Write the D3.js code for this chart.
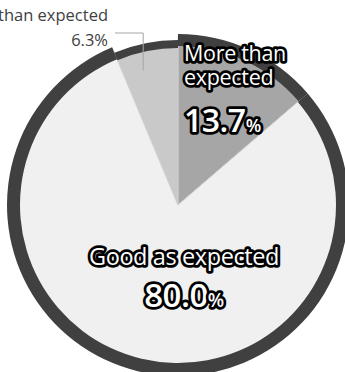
<!DOCTYPE html>
<html>
<head>
<meta charset="utf-8">
<script src="https://cdn.jsdelivr.net/npm/d3@7"></script>
<style>
  body { margin: 0; background: #fff; }
  svg { display: block; }
  .inlbl { fill: #fff; stroke: #000; stroke-width: 5.5px; stroke-linejoin: round; paint-order: stroke; font-family: "Open Sans", sans-serif; }
  .outlbl { fill: #404040; font-family: "Open Sans", sans-serif; }
</style>
</head>
<body>
<div id="container"></div>
<script>
var categories = ["More than expected", "Good as expected", "Less than expected"];
var values = [13.7, 80.0, 6.3];
var fills = ["#a6a6a6", "#f0f0f0", "#c9c9c9"];

const width = 345, height = 372;
const cx = 178, cy = 205;
// outer radius per slice (the small slice sits a bit lower, as in the source)
var outerR = [171, 171, 165];
var ringW = [12, 13, 8];

var svg = d3.select("#container")
    .append("svg")
    .attr("width", width)
    .attr("height", height);

var g = svg.append("g")
    .attr("transform", "translate(" + cx + "," + cy + ")");

var pie = d3.pie().sort(null).value(function (d) { return d; });
var arcs = pie(values);

// slice fills
g.selectAll("path.slice")
    .data(arcs)
    .enter()
    .append("path")
    .attr("class", "slice")
    .attr("fill", function (d, i) { return fills[i]; })
    .attr("stroke", "#d0d0d0")
    .attr("stroke-width", 0.8)
    .attr("d", function (d, i) { return d3.arc().innerRadius(0).outerRadius(outerR[i] - 1)(d); });

// dark outer border of every slice
g.selectAll("path.ring")
    .data(arcs)
    .enter()
    .append("path")
    .attr("class", "ring")
    .attr("fill", "#404040")
    .attr("d", function (d, i) {
        return d3.arc().innerRadius(outerR[i] - ringW[i]).outerRadius(outerR[i])(d);
    });

// inside labels
var more = g.append("text").attr("class", "inlbl")
    .attr("y", -144).attr("font-size", 21.5).attr("letter-spacing", -0.3);
more.append("tspan").attr("x", 6).text("More than");
more.append("tspan").attr("x", 6).attr("dy", 24).text("expected");

var p1 = g.append("text").attr("class", "inlbl")
    .attr("x", 6).attr("y", -73).attr("font-size", 32).attr("font-weight", 600)
    .attr("letter-spacing", -0.5);
p1.append("tspan").text(values[0].toFixed(1));
p1.append("tspan").attr("font-size", 18).text("%");

g.append("text").attr("class", "inlbl")
    .attr("x", 6).attr("y", 60).attr("font-size", 23.5)
    .attr("letter-spacing", -0.4)
    .attr("text-anchor", "middle")
    .text(categories[1]);

var p2 = g.append("text").attr("class", "inlbl")
    .attr("x", 6).attr("y", 102).attr("font-size", 33).attr("font-weight", 600)
    .attr("letter-spacing", -0.5)
    .attr("text-anchor", "middle");
p2.append("tspan").text(values[1].toFixed(1));
p2.append("tspan").attr("font-size", 19).text("%");

// outside label for the small slice
svg.append("text").attr("class", "outlbl")
    .attr("x", 108).attr("y", 21).attr("font-size", 16.5)
    .attr("text-anchor", "end")
    .text(categories[2]);
svg.append("text").attr("class", "outlbl")
    .attr("x", 108).attr("y", 46).attr("font-size", 16.5)
    .attr("text-anchor", "end")
    .text(values[2].toFixed(1) + "%");

// leader line
var pt = arcs[2].startAngle + 0.36 * (arcs[2].endAngle - arcs[2].startAngle);
var lx = cx + Math.sin(pt) * 139, ly = cy - Math.cos(pt) * 139;
svg.append("path")
    .attr("fill", "none")
    .attr("stroke", "#a6a6a6")
    .attr("stroke-width", 1)
    .attr("d", "M115,33H" + lx.toFixed(1) + "V" + ly.toFixed(1));
</script>
</body>
</html>
